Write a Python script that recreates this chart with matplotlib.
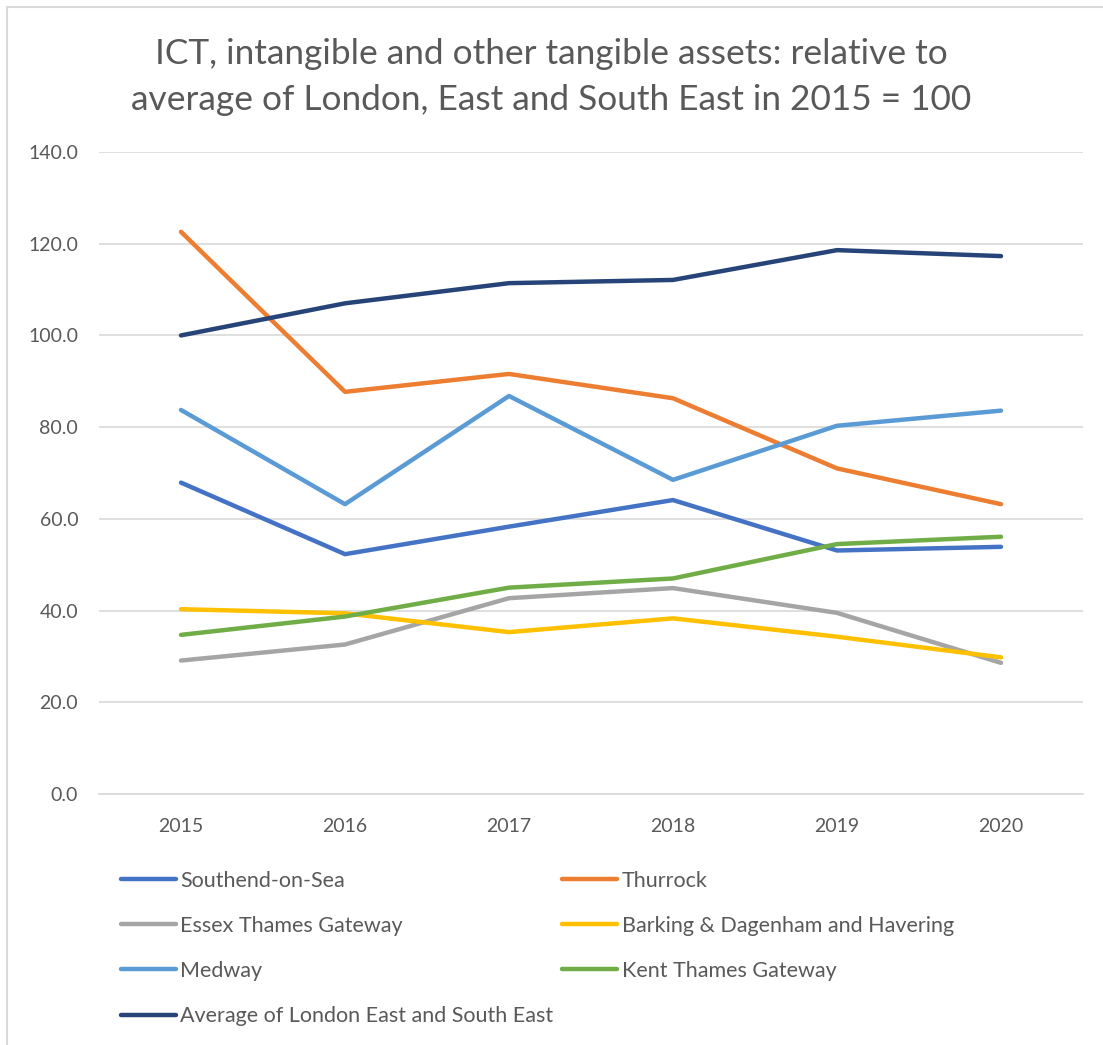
import matplotlib.pyplot as plt
from matplotlib.patches import Rectangle
from matplotlib.ticker import FormatStrFormatter

years = ['2015', '2016', '2017', '2018', '2019', '2020']

southend = [67.9, 52.3, 58.3, 64.1, 53.1, 53.9]
thurrock = [122.6, 87.7, 91.6, 86.3, 71.0, 63.2]
essex_tg = [29.1, 32.6, 42.7, 44.9, 39.5, 28.6]
barking_havering = [40.3, 39.4, 35.3, 38.3, 34.3, 29.8]
medway = [83.75, 63.2, 86.8, 68.5, 80.3, 83.6]
kent_tg = [34.7, 38.7, 45.0, 47.0, 54.5, 56.1]
lse_average = [100.0, 107.0, 111.4, 112.1, 118.6, 117.3]

series_names = ['Southend-on-Sea', 'Thurrock', 'Essex Thames Gateway',
                'Barking & Dagenham and Havering', 'Medway',
                'Kent Thames Gateway', 'Average of London East and South East']
series_values = [southend, thurrock, essex_tg, barking_havering, medway,
                 kent_tg, lse_average]
series_colors = ['#4472C4', '#ED7D31', '#A5A5A5', '#FFC000', '#5B9BD5',
                 '#70AD47', '#264478']

y_ticks = [0, 20, 40, 60, 80, 100, 120, 140]

text_grey = '#595959'
grid_grey = '#d9d9d9'
plt.rcParams['font.family'] = ['Lato', 'DejaVu Sans']

fig = plt.figure(figsize=(11.03, 10.45), dpi=100)
fig.patches.append(Rectangle((7 / 1103, -0.01), 1.1, 1 - 7 / 1045 + 0.01,
                             transform=fig.transFigure, fill=False,
                             edgecolor=grid_grey, linewidth=1.5))

ax = fig.add_axes([99 / 1103, 1 - 794 / 1045, 984 / 1103, 642 / 1045])

lines = {}
for name, vals, col in zip(series_names, series_values, series_colors):
    ln, = ax.plot(range(len(years)), vals, color=col, linewidth=3.2,
                  solid_capstyle='round', solid_joinstyle='round', label=name)
    lines[name] = ln

ax.set_xlim(-0.5, len(years) - 0.5)
ax.set_ylim(0, 140)
ax.set_yticks(y_ticks)
ax.yaxis.set_major_formatter(FormatStrFormatter('%.1f'))
ax.set_xticks(range(len(years)))
ax.set_xticklabels(years)
ax.grid(axis='y', color=grid_grey, linewidth=1.2)
ax.set_axisbelow(True)
for side in ['top', 'right', 'left']:
    ax.spines[side].set_visible(False)
ax.spines['bottom'].set_color(grid_grey)
ax.spines['bottom'].set_linewidth(1.2)
ax.tick_params(axis='both', length=0, colors=text_grey, labelsize=14)
ax.tick_params(axis='y', pad=15)
ax.tick_params(axis='x', pad=17)

fig.text(0.5, 1 - 77 / 1045,
         'ICT, intangible and other tangible assets: relative to\n'
         'average of London, East and South East in 2015 = 100',
         ha='center', va='center', fontsize=25.4, color=text_grey,
         linespacing=1.56)

# legend in two columns, filled column by column
order = [0, 2, 4, 6, 1, 3, 5]
handles = [lines[series_names[i]] for i in order]
labels = [series_names[i] for i in order]
leg = fig.legend(handles, labels, ncol=2, loc='upper left',
                 bbox_to_anchor=(112 / 1103, 1 - 862 / 1045), frameon=False,
                 fontsize=15.5, handlelength=2.55, handletextpad=0.23,
                 columnspacing=0.4, labelspacing=1.17, borderaxespad=0)
for t in leg.get_texts():
    t.set_color(text_grey)

fig.savefig('out.png', dpi=100)
